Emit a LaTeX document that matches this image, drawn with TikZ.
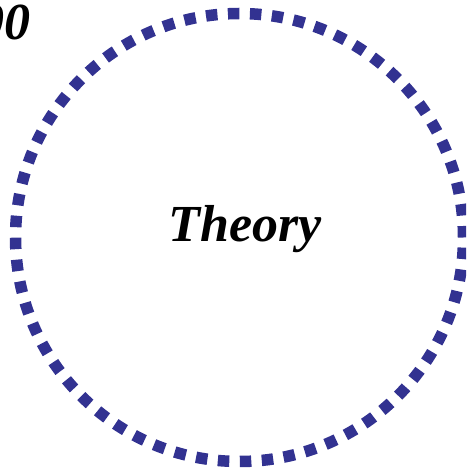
\documentclass[tikz,border=0pt]{standalone}
\usepackage{fontspec}
\setmainfont{Liberation Serif}
\usetikzlibrary{positioning}
\definecolor{ringblue}{RGB}{50,50,145}

\begin{document}
\begin{tikzpicture}[
        x=1pt, y=1pt,
        every node/.style={font=\fontsize{52}{60}\selectfont\bfseries\itshape, inner sep=0pt},
        ring/.style={draw=ringblue, line width=11.5pt, dash pattern=on 11.5pt off 10.5pt}
    ]
        % Frame
        \useasboundingbox (0,0) rectangle (466,471);
        \clip (0,0) rectangle (466,471);

        % Ring
        \coordinate (centre) at (239.5,233.5);
        \draw[ring] (centre) circle[radius=224];

        % Labels
        \node[anchor=base] (theory) at (245,229) {Theory};
        \node[anchor=base east] (year) at (31,431) {00};
    \end{tikzpicture}
\end{document}
